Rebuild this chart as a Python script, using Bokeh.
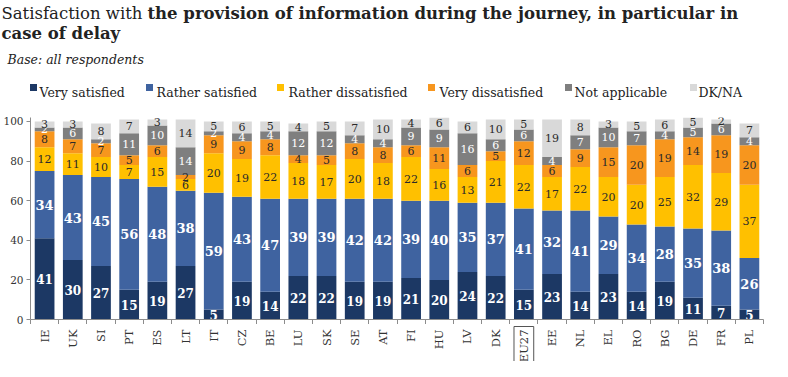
import math
from bokeh.plotting import figure
from bokeh.layouts import column
from bokeh.models import ColumnDataSource, FixedTicker, Range1d
from bokeh.core.properties import value
from bokeh.embed import file_html
from bokeh.resources import INLINE

countries = ["IE", "UK", "SI", "PT", "ES", "LT", "IT", "CZ", "BE", "LU", "SK", "SE", "AT",
             "FI", "HU", "LV", "DK", "EU27", "EE", "NL", "EL", "RO", "BG", "DE", "FR", "PL"]
very_satisfied = [41, 30, 27, 15, 19, 27, 5, 19, 14, 22, 22, 19, 19, 21, 20, 24, 22, 15, 23, 14, 23, 14, 19, 11, 7, 5]
rather_satisfied = [34, 43, 45, 56, 48, 38, 59, 43, 47, 39, 39, 42, 42, 39, 40, 35, 37, 41, 32, 41, 29, 34, 28, 35, 38, 26]
rather_dissatisfied = [12, 11, 10, 7, 15, 6, 20, 19, 22, 18, 17, 20, 18, 22, 16, 13, 21, 22, 17, 22, 20, 20, 25, 32, 29, 37]
very_dissatisfied = [8, 7, 7, 5, 6, 2, 9, 9, 8, 4, 5, 8, 8, 6, 11, 6, 5, 12, 6, 9, 15, 20, 19, 14, 19, 20]
not_applicable = [2, 6, 2, 11, 10, 14, 2, 4, 4, 12, 12, 4, 4, 9, 9, 16, 6, 6, 4, 7, 10, 7, 4, 5, 6, 4]
dk_na = [3, 3, 8, 7, 3, 14, 5, 6, 5, 4, 5, 7, 10, 4, 6, 6, 10, 5, 19, 8, 3, 5, 6, 5, 2, 7]

series_names = ["Very satisfied", "Rather satisfied", "Rather dissatisfied",
                "Very dissatisfied", "Not applicable", "DK/NA"]
series_values = [very_satisfied, rather_satisfied, rather_dissatisfied,
                 very_dissatisfied, not_applicable, dk_na]
colors = ["#1c3864", "#3f63a0", "#ffc000", "#f7961e", "#7f7f7f", "#d9d9d9"]
label_colors = ["white", "white", "#2a2a2a", "#2a2a2a", "white", "#2a2a2a"]
label_sizes = ["12px", "13px", "11px", "11px", "11px", "11px"]
y_ticks = [0, 20, 40, 60, 80, 100]
boxed = "EU27"

title_regular = "Satisfaction with"
title_bold_1 = "the provision of information during the journey, in particular in"
title_bold_2 = "case of delay"
subtitle = "Base: all respondents"

SERIF = "DejaVu Serif"
W = 772
BL, BR = 25, 9
xs = list(range(len(countries)))
x_range = Range1d(-0.5, len(countries) - 0.5)


def bare(fig):
    fig.outline_line_color = None
    fig.grid.visible = False
    return fig


# ---------- header: title, subtitle, legend (coordinates = page pixels) ----------
HH = 100
head = bare(figure(width=W, height=HH, x_range=(8, 8 + W), y_range=(8 + HH, 8),
                   output_backend="svg", toolbar_location=None,
                   x_axis_location=None, y_axis_location=None, min_border=0))
head.frame_align = False
BOLD_X = 155
head.text(x=[BOLD_X - 5], y=[21], text=[title_regular], text_font=value(SERIF), text_font_size="16.5px",
          text_color="#222222", text_baseline="alphabetic", text_align="right")
head.text(x=[BOLD_X], y=[21], text=[title_bold_1], text_font=value(SERIF), text_font_size="16.5px",
          text_font_style="bold", text_color="#222222", text_baseline="alphabetic")
head.text(x=[9], y=[41], text=[title_bold_2], text_font=value(SERIF), text_font_size="16.5px",
          text_font_style="bold", text_color="#222222", text_baseline="alphabetic")
head.text(x=[15], y=[67], text=[subtitle], text_font=value(SERIF), text_font_size="12.5px",
          text_font_style="italic", text_color="#222222", text_baseline="alphabetic")

sq_x = [41, 157, 288, 439, 576, 701]
tx_x = [47, 164, 296, 447, 582, 706]
head.rect(x=sq_x, y=[95] * 6, width=7, height=7, fill_color=colors, line_color=None)
head.text(x=tx_x, y=[100] * 6, text=series_names, text_font=value(SERIF), text_font_size="12.5px",
          text_color="#222222", text_baseline="alphabetic")

# ---------- main chart ----------
MH = 224
data = {"x": xs}
keys = ["s%d" % i for i in range(6)]
for k, v in zip(keys, series_values):
    data[k] = v
source = ColumnDataSource(data)

p = bare(figure(width=W, height=MH, x_range=x_range, y_range=(0, 102),
                output_backend="svg", toolbar_location=None,
                min_border_left=BL, min_border_right=BR, min_border_top=17, min_border_bottom=0))
p.vbar_stack(keys, x="x", width=0.7, color=colors, source=source, line_color=None)

bottoms = [0] * len(countries)
for si, vals in enumerate(series_values):
    mids = [b + v / 2 for b, v in zip(bottoms, vals)]
    p.text(x=xs, y=mids, text=[str(v) for v in vals], text_align="center",
           text_baseline="middle", text_color=label_colors[si],
           text_font=value(SERIF), text_font_size=label_sizes[si],
           text_font_style="bold" if si < 2 else "normal")
    bottoms = [b + v for b, v in zip(bottoms, vals)]

p.yaxis.ticker = FixedTicker(ticks=y_ticks)
p.yaxis.major_tick_out = 4
p.yaxis.major_tick_in = 0
p.yaxis.minor_tick_out = 0
p.yaxis.minor_tick_in = 0
p.yaxis.axis_line_color = "#8c8c8c"
p.yaxis.major_tick_line_color = "#8c8c8c"
p.yaxis.major_label_text_font = SERIF
p.yaxis.major_label_text_font_size = "10.5px"
p.yaxis.major_label_text_color = "#333333"
p.yaxis.major_label_standoff = 3

p.xaxis.ticker = FixedTicker(ticks=[], minor_ticks=[i - 0.5 for i in range(len(countries) + 1)])
p.xaxis.major_tick_out = 0
p.xaxis.major_tick_in = 0
p.xaxis.minor_tick_out = 5
p.xaxis.minor_tick_in = 0
p.xaxis.axis_line_color = "#8c8c8c"
p.xaxis.minor_tick_line_color = "#8c8c8c"
p.xaxis.major_label_text_font_size = "0px"
p.xaxis.major_label_standoff = 0

# ---------- footer: category labels ----------
FH = 361 - HH - MH
foot = bare(figure(width=W, height=FH, x_range=x_range, y_range=(FH, 0),
                   output_backend="svg", toolbar_location=None,
                   x_axis_location=None, y_axis_location=None,
                   min_border_left=BL, min_border_right=BR, min_border_top=0, min_border_bottom=0))
foot.text(x=xs, y=[5] * len(xs), text=countries, angle=math.pi / 2, text_align="right",
          text_baseline="middle", text_font=value(SERIF), text_font_size="11.5px",
          text_color="#333333")
bi = countries.index(boxed)
foot.rect(x=[bi], y=[(FH + 2) / 2], width=0.7, height=FH - 2, fill_color=None,
          line_color="#555555", line_width=1)

layout = column(head, p, foot, spacing=0)
open("out.html", "w").write(file_html(layout, INLINE))
